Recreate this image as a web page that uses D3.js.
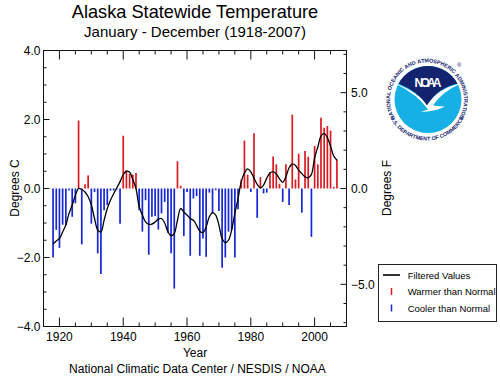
<!DOCTYPE html>
<html><head><meta charset="utf-8">
<style>html,body{margin:0;padding:0;background:#fff}svg{display:block}text{font-family:"Liberation Sans",Arial,sans-serif;fill:#000}</style>
<script src="https://cdn.jsdelivr.net/npm/d3@7"></script></head><body>
<script>
const startYear = 1918;
const anomalies = [-2.0,-1.2,-1.72,-1.05,-1.06,-.05,-.82,-.43,1.97,-1.62,.12,.38,-1.02,-.1,-1.88,-2.48,-.63,-.48,-.06,-.06,-.03,-1.02,1.53,.53,.42,.4,.45,-.63,-1.25,-.34,-1.92,-.82,-.8,-1.19,-.72,-.39,-1.28,-1.88,-2.9,.79,.08,-1.38,-.1,-1.95,-.29,-.22,-1.95,-1.45,-1.98,-.12,-.72,-.05,-.65,-2.3,-2.0,-1.25,-1.2,-2.0,-.6,.26,1.39,.4,-.1,1.6,-.85,.33,-.14,-.12,.48,.93,.7,.14,-.39,.7,-.48,2.14,.26,1.01,-.7,1.09,.92,-1.4,1.23,.7,2.05,1.76,1.81,1.68,.05,.84];
const filtered = [-1.61,-1.52,-1.45,-1.26,-1.06,-.72,-.48,-.2,0,-.03,-.1,-.24,-.48,-.87,-1.2,-1.26,-.92,-.58,-.34,-.15,.02,.2,.4,.5,.47,.26,0,-.53,-.77,-.97,-1.04,-1.03,-.97,-.89,-.87,-1.0,-1.25,-1.37,-1.3,-.92,-.58,-.68,-.77,-.87,-.92,-1.07,-1.24,-1.28,-1.11,-.82,-.7,-.77,-1.06,-1.45,-1.57,-1.5,-1.2,-.72,-.29,.2,.45,.57,.48,.3,.12,.02,.1,.3,.45,.49,.42,.28,.18,.34,.6,.71,.67,.53,.43,.34,.31,.41,.89,1.2,1.52,1.6,1.47,1.23,.94,.82];
const yTicksC = [-4,-2,0,2,4];
const yTicksF = [-5,0,5];
const xMajor = [1920,1940,1960,1980,2000];
const titleText = "Alaska Statewide Temperature";
const subtitleText = "January - December (1918-2007)";
const legendItems = ["Filtered Values","Warmer than Normal","Cooler than Normal"];

const L=43.5,R=346.5,T=50.5,B=326.5;
const svg=d3.select("body").append("svg").attr("width",500).attr("height",379);
const x=d3.scaleLinear().domain([1915,2010]).range([L,R]);
const y=d3.scaleLinear().domain([-4,4]).range([B,T]);
const yF=d3.scaleLinear().domain([-4*1.8,4*1.8]).range([B,T]);
const years=anomalies.map((_,i)=>startYear+i);
const RED="#d81a22",BLUE="#1626d2";

svg.append("g").selectAll("line").data(years).join("line")
 .attr("x1",d=>x(d)).attr("x2",d=>x(d)).attr("y1",y(0))
 .attr("y2",(d,i)=>y(anomalies[i])).attr("stroke",(d,i)=>anomalies[i]>=0?RED:BLUE).attr("stroke-width",1.7);

svg.append("path").datum(filtered).attr("fill","none").attr("stroke","#000").attr("stroke-width",1.3)
 .attr("d",d3.line().x((d,i)=>x(years[i])).y(d=>y(d)).curve(d3.curveCatmullRom));

const ax=svg.append("g").attr("stroke","#111").attr("stroke-width",1).attr("fill","none");
ax.append("rect").attr("x",L).attr("y",T).attr("width",R-L).attr("height",B-T);
d3.range(1915,2011,5).forEach(v=>{const l=xMajor.includes(v)?9:4;
 ax.append("line").attr("x1",x(v)).attr("x2",x(v)).attr("y1",B).attr("y2",B-l);
 ax.append("line").attr("x1",x(v)).attr("x2",x(v)).attr("y1",T).attr("y2",T+l);});
d3.range(-4,4.01,.5).forEach(v=>{const l=yTicksC.includes(v)?6:3;
 ax.append("line").attr("x1",L).attr("x2",L+l).attr("y1",y(v)).attr("y2",y(v));});
d3.range(-7,7.01,1).forEach(v=>{const l=yTicksF.includes(v)?6:3;
 ax.append("line").attr("x1",R).attr("x2",R-l).attr("y1",yF(v)).attr("y2",yF(v));});

const txt=(s,xx,yy,size,anchor,rot)=>{const t=svg.append("text").text(s).attr("font-size",size).attr("text-anchor",anchor||"middle");
 if(rot) t.attr("transform",`translate(${xx},${yy}) rotate(${rot})`); else t.attr("x",xx).attr("y",yy); return t;};
yTicksC.forEach(v=>txt(d3.format(".1f")(v),L-3,y(v)+4.5,12,"end"));
yTicksF.forEach(v=>txt(d3.format(".1f")(v),R+4.5,yF(v)+4.5,12,"start"));
xMajor.forEach(v=>txt(String(v),x(v),341,12));
txt(titleText,195,18,18.2);
txt(subtitleText,195,37,15);
txt("Year",195,357,12);
txt("National Climatic Data Center / NESDIS / NOAA",197.5,373,12);
txt("Degrees C",19,188,12,"middle",-90);
txt("Degrees F",391,188,12,"middle",-90);

// logo
const cx=428,cy=99.5,r=33.5;
const logo=svg.append("g");
logo.append("circle").attr("cx",cx).attr("cy",cy).attr("r",r).attr("fill","#16b0e4");
logo.append("path").attr("fill","#14236e").attr("d",`M${cx-29.4},${cy-16} A${r},${r} 0 0 1 ${cx+29.4},${cy-16} Q${cx+10},${cy-12} ${cx-1},${cy+6} Q${cx-10},${cy-8} ${cx-29.4},${cy-16}Z`);
logo.append("path").attr("fill","#fff").attr("d",`M${cx-33},${cy-16} Q${cx-10},${cy-8} ${cx-1},${cy+6} Q${cx+10},${cy-12} ${cx+33},${cy-16} Q${cx+14},${cy-8} ${cx+5},${cy+6} Q${cx+12},${cy+7} ${cx+17},${cy+7} Q${cx+5},${cy+13} ${cx-7},${cy+12} Q${cx-2},${cy+11} ${cx},${cy+10} Q${cx-10},${cy-5} ${cx-33},${cy-16}Z`);
logo.append("text").text("NOAA").attr("x",cx).attr("y",87).attr("text-anchor","middle").attr("font-size",12).attr("font-weight","bold").style("fill","#fff").attr("textLength",27);

// ring text: one text element, each glyph placed on the circle
const ringSize=5.4;
const mctx=document.createElement("canvas").getContext("2d");
mctx.font=`bold ${ringSize}px "Liberation Sans"`;
function ringText(s,rad,ccx,ccy,bottom){
 const total=mctx.measureText(s).width, xs=[],ys=[],rs=[];
 for(let i=0;i<s.length;i++){
  const off=mctx.measureText(s.slice(0,i)).width-total/2, a=off/rad;
  if(bottom){xs.push(ccx+rad*Math.sin(a));ys.push(ccy+rad*Math.cos(a));rs.push(-a*180/Math.PI);}
  else{xs.push(ccx+rad*Math.sin(a));ys.push(ccy-rad*Math.cos(a));rs.push(a*180/Math.PI);}
 }
 logo.append("text").text(s).attr("font-size",ringSize).attr("font-weight","bold").style("fill","#14236e")
  .attr("x",xs.map(v=>v.toFixed(2)).join(" ")).attr("y",ys.map(v=>v.toFixed(2)).join(" ")).attr("rotate",rs.map(v=>v.toFixed(1)).join(" "));
}
ringText("NATIONAL OCEANIC AND ATMOSPHERIC ADMINISTRATION",37,427,99.5,false);
ringText("U.S. DEPARTMENT OF COMMERCE",41,427,99.5,true);
logo.append("text").text("®").attr("x",457).attr("y",67).attr("font-size",6).style("fill","#14236e");

// legend
const lg=svg.append("g");
lg.append("rect").attr("x",378.5).attr("y",264.5).attr("width",118).attr("height",57).attr("fill","#fff").attr("stroke","#222");
const ly=[275,291.5,308];
legendItems.forEach((s,i)=>txt(s,407.7,ly[i]+3.5,9.5,"start"));
lg.append("line").attr("x1",383).attr("x2",400).attr("y1",ly[0]).attr("y2",ly[0]).attr("stroke","#000").attr("stroke-width",1.6);
[[1,RED],[2,BLUE]].forEach(([i,c])=>lg.append("line").attr("x1",391.5).attr("x2",391.5).attr("y1",ly[i]-3.5).attr("y2",ly[i]+3.5).attr("stroke",c).attr("stroke-width",1.5));
</script></body></html>
